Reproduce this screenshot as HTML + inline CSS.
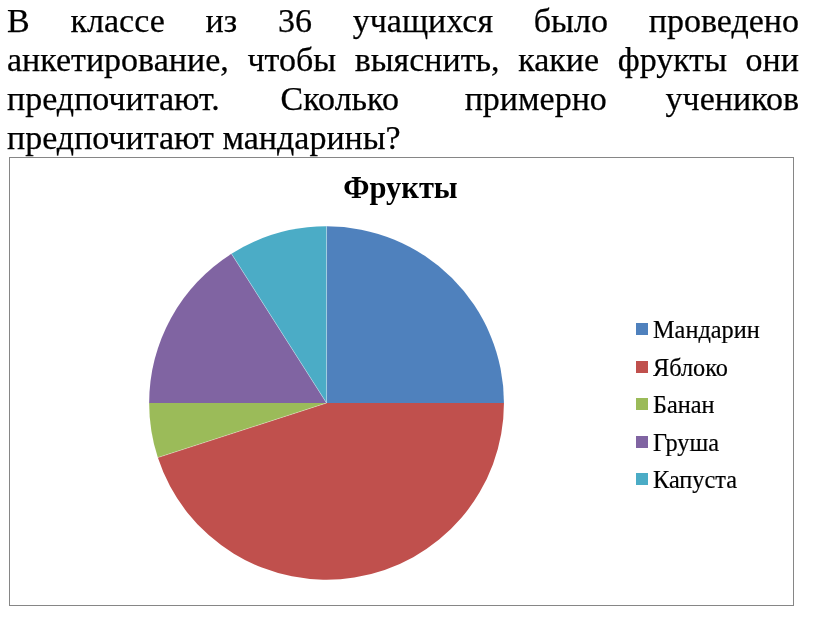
<!DOCTYPE html>
<html><head><meta charset="utf-8">
<style>
html,body{margin:0;padding:0;background:#fff;}
body{width:816px;height:618px;position:relative;overflow:hidden;-webkit-font-smoothing:antialiased;font-family:"Liberation Serif",serif;color:#000;}
.ln{will-change:transform;-webkit-text-stroke:0.25px #000;position:absolute;left:7px;width:792px;font-size:34px;line-height:39px;white-space:nowrap;}
.j{text-align:justify;text-align-last:justify;white-space:normal;}
.frame{position:absolute;left:9px;top:157px;width:783px;height:447px;border:1px solid #868686;box-sizing:content-box;}
.title{will-change:transform;position:absolute;left:0;top:170.5px;width:801px;text-align:center;font-weight:bold;font-size:30.5px;line-height:34px;}
.leg{position:absolute;left:636px;font-size:23px;line-height:26px;white-space:nowrap;}
.leg i{position:absolute;left:0;width:12px;height:12px;}
.leg span{position:absolute;left:17px;}
svg{position:absolute;left:0;top:0;}
</style></head><body>
<div class="ln j" style="top:1px">В классе из 36 учащихся было проведено</div>
<div class="ln j" style="top:40px">анкетирование, чтобы выяснить, какие фрукты они</div>
<div class="ln j" style="top:79px">предпочитают. <span style="position:relative;left:-1px">Сколько</span> <span style="position:relative;left:3px">примерно</span> учеников</div>
<div class="ln" style="top:118px">предпочитают мандарины?</div>
<div class="frame"></div>
<div class="title">Фрукты</div>
<svg width="816" height="618" viewBox="0 0 816 618">
<path d="M326.55,403.0 L326.55,226.30 A177.4,176.7 0 0 1 503.95,403.00 Z" fill="#4F81BD"/>
<path d="M326.55,403.0 L503.95,403.00 A177.4,176.7 0 0 1 157.83,457.60 Z" fill="#C0504D"/>
<path d="M326.55,403.0 L157.83,457.60 A177.4,176.7 0 0 1 149.15,403.00 Z" fill="#9BBB59"/>
<path d="M326.55,403.0 L149.15,403.00 A177.4,176.7 0 0 1 231.49,253.81 Z" fill="#8064A2"/>
<path d="M326.55,403.0 L231.49,253.81 A177.4,176.7 0 0 1 326.55,226.30 Z" fill="#4BACC6"/>
<line x1="326.55" y1="403.0" x2="326.55" y2="226.30" stroke="#fff" stroke-opacity="0.55" stroke-width="0.6"/>
<line x1="326.55" y1="403.0" x2="157.83" y2="457.60" stroke="#fff" stroke-opacity="0.55" stroke-width="0.6"/>
<line x1="326.55" y1="403.0" x2="231.49" y2="253.81" stroke="#fff" stroke-opacity="0.55" stroke-width="0.6"/>
</svg>
<div class="leg" style="top:323px"><i style="background:#4F81BD"></i></div>
<div class="leg" style="top:361px"><i style="background:#C0504D"></i></div>
<div class="leg" style="top:398px"><i style="background:#9BBB59"></i></div>
<div class="leg" style="top:436px"><i style="background:#8064A2"></i></div>
<div class="leg" style="top:473px"><i style="background:#4BACC6"></i></div>
<div class="legt" style="will-change:transform;-webkit-text-stroke:0.2px #000;position:absolute;left:653px;top:310.5px;font-size:24.3px;line-height:37.5px;white-space:nowrap">Мандарин<br>Яблоко<br>Банан<br>Груша<br>Капуста</div>
</body></html>
